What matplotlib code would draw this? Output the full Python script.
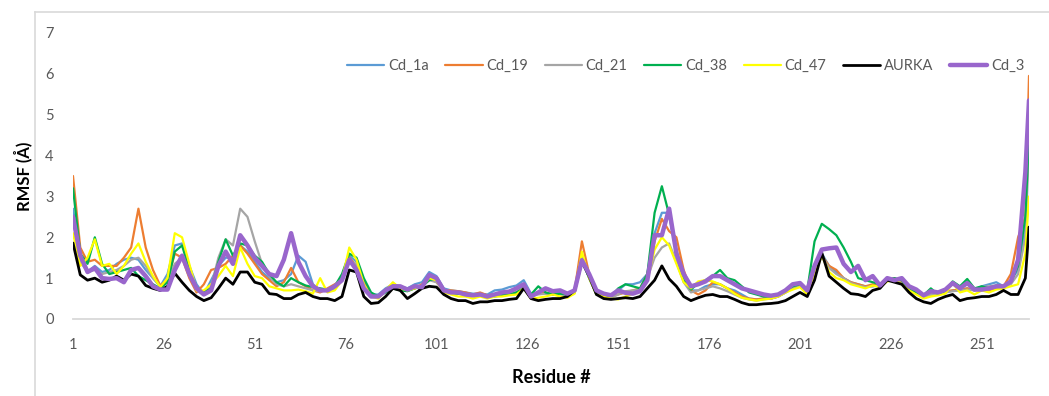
import matplotlib
matplotlib.use("Agg")
import matplotlib.pyplot as plt
from matplotlib.lines import Line2D

plt.rcParams['font.family'] = ['Lato', 'DejaVu Sans']

# Residue numbers (odd residues plus the final residue)
residues = list(range(1, 264, 2)) + [264]

cd_1a = [2.7, 1.5, 1.15, 1.3, 1.15, 1.2, 1.35, 1.45, 1.5, 1.45,
         1.2, 1.0, 0.8, 1.1, 1.8, 1.85, 1.3, 0.85, 0.6, 0.95,
         1.3, 1.5, 1.5, 1.8, 1.65, 1.4, 1.15, 1.0, 0.9, 0.95,
         1.1, 1.55, 1.4, 0.85, 0.7, 0.7, 0.75, 1.0, 1.55, 1.4,
         0.9, 0.6, 0.6, 0.75, 0.85, 0.8, 0.75, 0.85, 0.9, 1.15,
         1.05, 0.75, 0.7, 0.68, 0.65, 0.62, 0.62, 0.6, 0.7, 0.72,
         0.78, 0.82, 0.95, 0.62, 0.65, 0.62, 0.62, 0.65, 0.6, 0.7,
         1.55, 1.05, 0.65, 0.58, 0.55, 0.7, 0.85, 0.85, 0.9, 1.1,
         2.1, 2.6, 2.6, 1.7, 1.05, 0.7, 0.7, 0.8, 0.85, 0.85,
         0.75, 0.7, 0.6, 0.5, 0.48, 0.5, 0.5, 0.55, 0.65, 0.75,
         0.8, 0.65, 1.2, 1.6, 1.3, 1.15, 1.0, 0.9, 0.85, 0.8,
         0.8, 0.85, 0.95, 1.0, 0.9, 0.75, 0.65, 0.55, 0.6, 0.6,
         0.65, 0.7, 0.7, 0.75, 0.72, 0.8, 0.85, 0.9, 0.8, 0.95,
         1.2, 2.2, 4.8]

cd_19 = [3.5, 1.75, 1.4, 1.45, 1.3, 1.3, 1.3, 1.5, 1.75, 2.7,
         1.75, 1.2, 0.82, 0.95, 1.6, 1.5, 1.0, 0.65, 0.85, 1.2,
         1.25, 1.35, 1.55, 1.8, 1.6, 1.35, 1.1, 0.95, 0.8, 0.9,
         1.25, 0.9, 0.8, 0.7, 0.65, 0.75, 0.85, 0.95, 1.5, 1.3,
         0.9, 0.6, 0.55, 0.7, 0.8, 0.8, 0.7, 0.75, 0.85, 1.0,
         0.9, 0.7, 0.7, 0.68, 0.65, 0.6, 0.65, 0.58, 0.6, 0.6,
         0.62, 0.65, 0.8, 0.6, 0.62, 0.65, 0.6, 0.62, 0.6, 0.7,
         1.9, 1.1, 0.65, 0.58, 0.55, 0.6, 0.65, 0.7, 0.75, 1.1,
         1.9, 2.45, 2.15, 2.0, 1.2, 0.7, 0.6, 0.7, 0.9, 0.85,
         0.75, 0.65, 0.55, 0.5, 0.48, 0.5, 0.5, 0.55, 0.65, 0.75,
         0.8, 0.65, 1.2, 1.55, 1.3, 1.2, 1.0, 0.9, 0.85, 0.8,
         0.85, 0.8, 0.95, 1.0, 0.9, 0.75, 0.65, 0.55, 0.6, 0.6,
         0.68, 0.7, 0.72, 0.75, 0.7, 0.75, 0.7, 0.75, 0.8, 1.1,
         2.0, 2.5, 5.95]

cd_21 = [2.5, 1.4, 1.15, 1.2, 1.1, 1.15, 1.2, 1.3, 1.45, 1.5,
         1.3, 1.0, 0.8, 0.9, 1.35, 1.5, 1.1, 0.7, 0.6, 0.8,
         1.5, 1.95, 1.8, 2.7, 2.5, 1.9, 1.35, 1.05, 0.85, 0.8,
         0.85, 0.8, 0.75, 0.7, 0.68, 0.72, 0.78, 0.95, 1.4, 1.35,
         0.85, 0.55, 0.55, 0.7, 0.78, 0.75, 0.7, 0.75, 0.8, 0.95,
         0.9, 0.68, 0.65, 0.62, 0.6, 0.58, 0.6, 0.55, 0.58, 0.6,
         0.62, 0.65, 0.78, 0.58, 0.6, 0.62, 0.6, 0.6, 0.58, 0.65,
         1.45, 1.0, 0.62, 0.55, 0.52, 0.6, 0.68, 0.7, 0.72, 1.0,
         1.5, 1.75, 1.85, 1.4, 0.9, 0.65, 0.7, 0.75, 0.8, 0.75,
         0.68, 0.6, 0.52, 0.48, 0.45, 0.48, 0.5, 0.55, 0.65, 0.75,
         0.8, 0.62, 1.15, 1.55, 1.25, 1.1, 1.0, 0.88, 0.82, 0.78,
         0.8, 0.82, 0.95, 0.95, 0.88, 0.72, 0.62, 0.55, 0.6, 0.6,
         0.65, 0.68, 0.7, 0.72, 0.7, 0.78, 0.8, 0.82, 0.78, 0.85,
         1.1, 2.0, 4.2]

cd_38 = [3.2, 1.6, 1.35, 2.0, 1.35, 1.1, 1.15, 1.2, 1.25, 1.05,
         0.95, 0.85, 0.75, 0.9, 1.65, 1.8, 1.2, 0.75, 0.65, 0.75,
         1.4, 1.95, 1.55, 1.85, 1.8, 1.55, 1.4, 1.1, 0.9, 0.8,
         1.0, 0.9, 0.82, 0.78, 0.75, 0.72, 0.8, 1.1, 1.6, 1.5,
         1.0, 0.65, 0.55, 0.65, 0.75, 0.7, 0.68, 0.75, 0.8, 0.95,
         1.0, 0.7, 0.62, 0.62, 0.6, 0.58, 0.6, 0.55, 0.55, 0.58,
         0.6, 0.65, 0.75, 0.6, 0.8, 0.65, 0.6, 0.62, 0.6, 0.65,
         1.45, 1.0, 0.6, 0.55, 0.55, 0.75, 0.85, 0.8, 0.75, 1.1,
         2.6, 3.25, 2.55, 1.6, 0.95, 0.72, 0.88, 0.95, 1.05, 1.2,
         1.0, 0.95, 0.8, 0.65, 0.6, 0.55, 0.55, 0.6, 0.7, 0.8,
         0.85, 0.7, 1.9, 2.33, 2.2, 2.05, 1.75, 1.4, 1.0, 0.95,
         0.9, 0.85, 0.95, 1.0, 0.95, 0.75, 0.65, 0.58, 0.75, 0.6,
         0.7, 0.92, 0.8, 0.98, 0.75, 0.8, 0.75, 0.82, 0.8, 0.9,
         1.3, 2.5, 4.5]

cd_47 = [2.1, 1.3, 1.5, 1.95, 1.3, 1.35, 1.1, 1.3, 1.6, 1.85,
         1.4, 1.05, 0.78, 1.0, 2.1, 2.0, 1.35, 0.7, 0.7, 0.85,
         1.05, 1.3, 1.05, 1.75, 1.35, 1.05, 1.0, 0.8, 0.75, 0.7,
         0.7, 0.72, 0.68, 0.62, 1.0, 0.65, 0.7, 0.95, 1.75, 1.45,
         0.85, 0.55, 0.5, 0.7, 0.9, 0.75, 0.7, 0.75, 0.8, 1.0,
         0.95, 0.65, 0.6, 0.55, 0.55, 0.5, 0.55, 0.5, 0.55, 0.55,
         0.58, 0.6, 0.75, 0.5, 0.52, 0.55, 0.6, 0.55, 0.52, 0.62,
         1.65, 1.0, 0.6, 0.55, 0.5, 0.48, 0.55, 0.62, 0.68, 0.95,
         1.7, 2.0, 1.8, 1.35, 0.9, 0.75, 0.92, 0.95, 0.92, 0.85,
         0.75, 0.62, 0.52, 0.48, 0.45, 0.48, 0.5, 0.55, 0.65, 0.72,
         0.78, 0.6, 1.1, 1.55, 1.15, 1.0, 0.95, 0.85, 0.8, 0.75,
         0.82, 0.78, 0.92, 0.95, 0.85, 0.7, 0.6, 0.5, 0.55, 0.58,
         0.62, 0.88, 0.65, 0.7, 0.6, 0.7, 0.65, 0.72, 0.75, 0.8,
         0.85, 1.6, 3.0]

aurka = [1.86, 1.08, 0.95, 1.0, 0.9, 0.95, 1.05, 0.95, 1.1, 1.05,
         0.82, 0.75, 0.7, 0.8, 1.12, 0.9, 0.7, 0.55, 0.45, 0.52,
         0.75, 1.0, 0.85, 1.15, 1.15, 0.9, 0.85, 0.62, 0.6, 0.5,
         0.5, 0.6, 0.65, 0.55, 0.5, 0.5, 0.45, 0.55, 1.2, 1.15,
         0.55, 0.38, 0.4, 0.55, 0.75, 0.7, 0.5, 0.62, 0.75, 0.8,
         0.78, 0.6, 0.5, 0.45, 0.45, 0.38, 0.42, 0.42, 0.45, 0.45,
         0.48, 0.5, 0.75, 0.5, 0.45, 0.48, 0.5, 0.5, 0.55, 0.7,
         1.4, 1.05, 0.6, 0.5, 0.48, 0.5, 0.52, 0.5, 0.55, 0.75,
         0.95, 1.3, 0.98, 0.8, 0.55, 0.45, 0.52, 0.58, 0.6, 0.55,
         0.55, 0.48, 0.4, 0.35, 0.35, 0.37, 0.38, 0.4, 0.45, 0.55,
         0.65, 0.55, 0.95, 1.62, 1.05, 0.9, 0.75, 0.62, 0.6, 0.55,
         0.7, 0.75, 0.95, 0.9, 0.85, 0.65, 0.5, 0.42, 0.38, 0.48,
         0.55, 0.6, 0.45, 0.5, 0.52, 0.55, 0.55, 0.6, 0.7, 0.6,
         0.6, 1.0, 2.25]

cd_3 = [2.5, 1.55, 1.15, 1.25, 1.0, 0.98, 1.0, 0.9, 1.2, 1.25,
        1.05, 0.8, 0.72, 0.72, 1.2, 1.55, 1.1, 0.75, 0.6, 0.7,
        1.3, 1.65, 1.35, 2.05, 1.8, 1.5, 1.3, 1.1, 1.05, 1.45,
        2.1, 1.4, 1.05, 0.8, 0.7, 0.7, 0.8, 0.95, 1.45, 1.2,
        0.75, 0.55, 0.55, 0.7, 0.8, 0.8, 0.72, 0.8, 0.78, 1.08,
        1.0, 0.7, 0.65, 0.65, 0.6, 0.58, 0.6, 0.55, 0.6, 0.65,
        0.67, 0.75, 0.85, 0.55, 0.65, 0.75, 0.68, 0.7, 0.62, 0.7,
        1.44, 1.1, 0.7, 0.62, 0.58, 0.7, 0.64, 0.62, 0.68, 0.95,
        2.05, 2.05, 2.7, 1.6, 1.1, 0.8, 0.85, 0.92, 1.05, 1.05,
        0.95, 0.85, 0.75, 0.7, 0.65, 0.6, 0.57, 0.6, 0.7, 0.85,
        0.88, 0.7, 1.3, 1.7, 1.73, 1.75, 1.35, 1.15, 1.3, 0.95,
        1.05, 0.82, 1.0, 0.95, 1.0, 0.8, 0.72, 0.58, 0.68, 0.65,
        0.72, 0.88, 0.75, 0.88, 0.72, 0.72, 0.75, 0.8, 0.8, 0.92,
        1.45, 3.6, 5.35]

series = [
    ("Cd_1a", cd_1a, "#5B9BD5", 1.6),
    ("Cd_19", cd_19, "#ED7D31", 1.6),
    ("Cd_21", cd_21, "#A5A5A5", 1.6),
    ("Cd_38", cd_38, "#00B050", 1.6),
    ("Cd_47", cd_47, "#FFFF00", 1.6),
    ("AURKA", aurka, "#000000", 2.0),
    ("Cd_3", cd_3, "#9966CC", 3.2),
]

x_ticks = [1, 26, 51, 76, 101, 126, 151, 176, 201, 226, 251]
y_ticks = [0, 1, 2, 3, 4, 5, 6, 7]

W, H = 1049, 396
fig = plt.figure(figsize=(W / 100, H / 100), dpi=100)
ax = fig.add_axes([73 / W, 1 - 319 / H, (1029 - 73) / W, (319 - 33) / H])

for name, vals, color, lw in series:
    ax.plot(residues, vals, color=color, lw=lw, label=name,
            solid_joinstyle='round', solid_capstyle='round')

ax.set_xlim(1, 264)
ax.set_ylim(0, 7)
ax.set_xticks(x_ticks)
ax.set_yticks(y_ticks)
ax.tick_params(axis='both', length=0, labelsize=10.5, labelcolor='#595959')
ax.tick_params(axis='x', pad=14)
ax.tick_params(axis='y', pad=14)
for s in ('top', 'right', 'left'):
    ax.spines[s].set_visible(False)
ax.spines['bottom'].set_color('#D9D9D9')
ax.spines['bottom'].set_linewidth(1.3)
ax.spines['bottom'].set_zorder(0)

ax.set_xlabel("Residue #", fontsize=13, fontweight='bold', labelpad=12)
ax.set_ylabel("RMSF (Å)", fontsize=12, fontweight='bold', labelpad=9)

ax.legend(loc='center left', bbox_to_anchor=(347 / W, 1 - 66 / H),
          bbox_transform=fig.transFigure, ncol=7, frameon=False,
          fontsize=10.5, handlelength=2.55, handletextpad=0.25,
          columnspacing=1.15, borderpad=0, borderaxespad=0,
          labelcolor='#595959')

# chart frame edges
fig.add_artist(Line2D([35 / W, 35 / W], [0, 1 - 12 / H],
                      transform=fig.transFigure, color='#D9D9D9', lw=1.2))
fig.add_artist(Line2D([35 / W, 1], [1 - 12 / H, 1 - 12 / H],
                      transform=fig.transFigure, color='#D9D9D9', lw=1.2))

fig.savefig("out.png", dpi=100)
